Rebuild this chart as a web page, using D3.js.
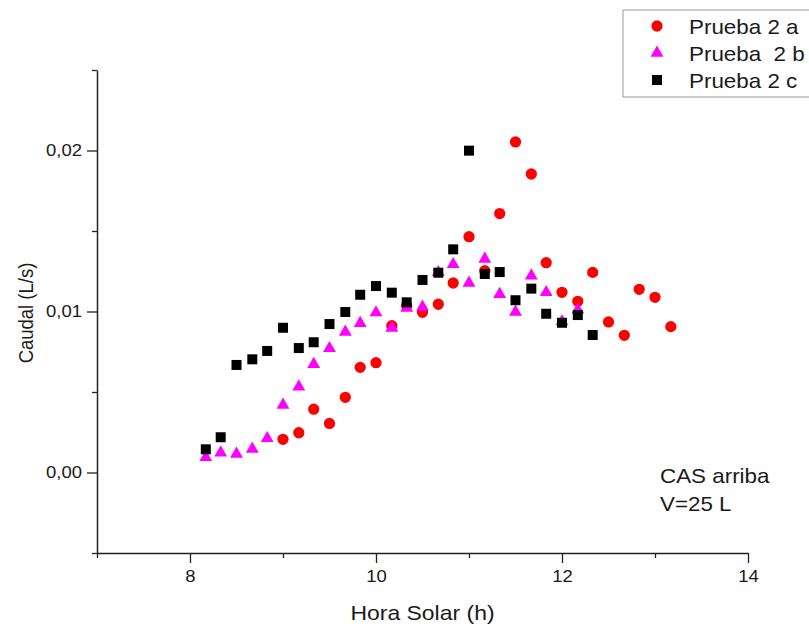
<!DOCTYPE html>
<html>
<head>
<meta charset="utf-8">
<script src="https://cdn.jsdelivr.net/npm/d3@7"></script>
<style>
  body { margin: 0; background: #fff; }
  svg text { font-family: "Liberation Sans", Arial, sans-serif; fill: #1a1a1a; }
</style>
</head>
<body>
<div id="chart"></div>
<script>
// Prueba 2 a (red circles)
var horaA = [9.00, 9.17, 9.33, 9.50, 9.67, 9.83, 10.00, 10.17, 10.33, 10.50, 10.67, 10.83, 11.00,
             11.17, 11.33, 11.50, 11.67, 11.83, 12.00, 12.17, 12.33, 12.50, 12.67, 12.83, 13.00, 13.17]
var caudalA = [0.00206, 0.00247, 0.00393, 0.00305, 0.00467, 0.00653, 0.00682, 0.00912, 0.01036, 0.00995,
               0.01045, 0.01177, 0.01465, 0.01253, 0.01608, 0.02053, 0.01854, 0.01303, 0.01119, 0.01063,
               0.01243, 0.00935, 0.00852, 0.01138, 0.01088, 0.00906]
// Prueba 2 b (magenta triangles)
var horaB = [8.17, 8.33, 8.50, 8.67, 8.83, 9.00, 9.17, 9.33, 9.50, 9.67, 9.83, 10.00, 10.17,
             10.33, 10.50, 10.67, 10.83, 11.00, 11.17, 11.33, 11.50, 11.67, 11.83, 12.00, 12.17]
var caudalB = [0.00094, 0.00123, 0.00115, 0.00146, 0.00212, 0.00419, 0.00533, 0.00672, 0.00771, 0.00873,
               0.00927, 0.00993, 0.00898, 0.01022, 0.01028, 0.01243, 0.01293, 0.01177, 0.01326, 0.01107,
               0.00997, 0.01222, 0.01119, 0.00937, 0.01010]
// Prueba 2 c (black squares)
var horaC = [8.17, 8.33, 8.50, 8.67, 8.83, 9.00, 9.17, 9.33, 9.50, 9.67, 9.83, 10.00, 10.17,
             10.33, 10.50, 10.67, 10.83, 11.00, 11.17, 11.33, 11.50, 11.67, 11.83, 12.00, 12.17, 12.33]
var caudalC = [0.00144, 0.00219, 0.00668, 0.00703, 0.00755, 0.00899, 0.00773, 0.00809, 0.00922, 0.00997,
               0.01104, 0.01158, 0.01117, 0.01057, 0.01196, 0.01241, 0.01386, 0.01999, 0.01233, 0.01245,
               0.01070, 0.01142, 0.00986, 0.00930, 0.00978, 0.00854]

var xMajor = [8, 10, 12, 14]
var xMinor = [7, 9, 11, 13]
var yMajor = [0, 0.01, 0.02]
var yMinor = [-0.005, 0.005, 0.015, 0.025]
var seriesNames = ["Prueba 2 a", "Prueba  2 b", "Prueba 2 c"]

var W = 809, H = 626
var margin = {top: 70, right: 61, bottom: 73, left: 97},
    width = W - margin.left - margin.right,
    height = H - margin.top - margin.bottom
// the original picture is a bit stretched sideways, so text gets a horizontal scale
var sx = 1.12

var svg = d3.select("#chart")
  .append("svg")
    .attr("width", W)
    .attr("height", H)
var g = svg.append("g")
    .attr("transform", "translate(" + margin.left + "," + margin.top + ")")

var x = d3.scaleLinear().domain([7, 14]).range([0, width])
var y = d3.scaleLinear().domain([-0.005, 0.025]).range([height, 0])

function styleAxis(sel) {
  sel.select(".domain").attr("stroke", "#222").attr("stroke-width", 1.5)
  sel.selectAll(".tick line").attr("stroke", "#222").attr("stroke-width", 1.3)
  sel.selectAll(".tick text").style("font-size", "16.5px").attr("fill", "#1a1a1a")
    .style("font-family", "'Liberation Sans', Arial, sans-serif")
}

// x axis
g.append("g")
  .attr("transform", "translate(0," + height + ")")
  .call(d3.axisBottom(x).tickValues(xMinor).tickSize(5).tickSizeOuter(0).tickFormat(""))
  .call(styleAxis)
g.append("g")
  .attr("transform", "translate(0," + height + ")")
  .call(d3.axisBottom(x).tickValues(xMajor).tickSize(10).tickSizeOuter(0).tickPadding(7).tickFormat(d3.format("d")))
  .call(styleAxis)
  .call(function(a) { a.selectAll(".tick text").attr("transform", "scale(" + sx + ",1)") })
  .select(".domain").remove()

// y axis
var fmt = function(d) { return d3.format(".2f")(d).replace(".", ",") }
g.append("g")
  .call(d3.axisLeft(y).tickValues(yMinor).tickSize(5).tickSizeOuter(0).tickFormat(""))
  .call(styleAxis)
g.append("g")
  .call(d3.axisLeft(y).tickValues(yMajor).tickSize(10).tickSizeOuter(0).tickPadding(5).tickFormat(fmt))
  .call(styleAxis)
  .call(function(a) {
    a.selectAll(".tick text").attr("x", -15 / sx).attr("transform", "scale(" + sx + ",1)")
  })
  .select(".domain").remove()

// axis titles
svg.append("text")
  .attr("transform", "translate(" + (margin.left + width / 2) + ",620) scale(" + sx + ",1)")
  .attr("text-anchor", "middle")
  .style("font-size", "20.5px")
  .text("Hora Solar (h)")
svg.append("text")
  .attr("transform", "translate(33,313) scale(" + sx + ",1) rotate(-90)")
  .attr("text-anchor", "middle")
  .style("font-size", "18.5px")
  .text("Caudal (L/s)")

// points
var dataA = horaA.map(function(h, i) { return {x: h, y: caudalA[i]} })
var dataB = horaB.map(function(h, i) { return {x: h, y: caudalB[i]} })
var dataC = horaC.map(function(h, i) { return {x: h, y: caudalC[i]} })

var circle = d3.symbol().type(d3.symbolCircle).size(100)
var tri = d3.symbol().type(d3.symbolTriangle).size(72)
var square = d3.symbol().type(d3.symbolSquare).size(100)

g.selectAll(".ptA").data(dataA).enter().append("path")
  .attr("class", "ptA")
  .attr("d", circle)
  .attr("transform", function(d) { return "translate(" + x(d.x) + "," + y(d.y) + ")" })
  .attr("fill", "#ff0000")
g.selectAll(".ptB").data(dataB).enter().append("path")
  .attr("class", "ptB")
  .attr("d", tri)
  .attr("transform", function(d) { return "translate(" + x(d.x) + "," + y(d.y) + ")" })
  .attr("fill", "#ff00ff")
g.selectAll(".ptC").data(dataC).enter().append("path")
  .attr("class", "ptC")
  .attr("d", square)
  .attr("transform", function(d) { return "translate(" + x(d.x) + "," + y(d.y) + ")" })
  .attr("fill", "#000000")

// legend
var legend = svg.append("g")
legend.append("rect")
  .attr("x", 623).attr("y", 10)
  .attr("width", 200).attr("height", 87)
  .attr("fill", "#fff")
  .attr("stroke", "#999").attr("stroke-width", 1)
var symbols = [circle, tri, square]
var colors = ["#ff0000", "#ff00ff", "#000000"]
seriesNames.forEach(function(name, i) {
  var cy = 26 + i * 27
  legend.append("path")
    .attr("d", symbols[i])
    .attr("transform", "translate(657," + cy + ")")
    .attr("fill", colors[i])
  legend.append("text")
    .attr("transform", "translate(689," + (cy + 8) + ") scale(" + sx + ",1)")
    .style("font-size", "20px")
    .style("white-space", "pre")
    .attr("xml:space", "preserve")
    .text(name)
})

// annotation
svg.append("text").attr("transform", "translate(660,483) scale(" + sx + ",1)").style("font-size", "20px").text("CAS arriba")
svg.append("text").attr("transform", "translate(660,511) scale(" + sx + ",1)").style("font-size", "20px").text("V=25 L")
</script>
</body>
</html>
